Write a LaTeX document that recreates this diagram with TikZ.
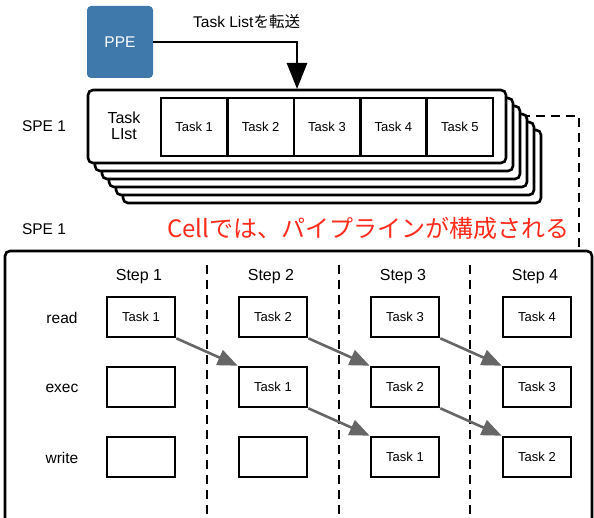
\documentclass[tikz,border=0pt]{standalone}
\usepackage{fontspec}
\setmainfont{Liberation Sans}
\newfontfamily\jpfont{Noto Sans CJK JP}
\usetikzlibrary{arrows.meta}
\definecolor{ppeblue}{HTML}{3F78AB}
\definecolor{cellred}{HTML}{FF2B1C}
\definecolor{arrgray}{HTML}{666666}
\begin{document}
\begin{tikzpicture}[x=1pt,y=-1pt,
  stackbox/.style={draw=black, line width=2.6pt, rounded corners=5pt, fill=white, minimum width=418pt, minimum height=73pt, inner sep=0pt},
  taskcell/.style={draw=black, line width=2.6pt, minimum width=66.4pt, minimum height=58pt, inner sep=0pt, font=\fontsize{13}{15}\selectfont},
  stepcell/.style={draw=black, line width=2.6pt, fill=white, minimum width=68pt, minimum height=40pt, inner sep=0pt, font=\fontsize{13}{15}\selectfont},
  lbl/.style={font=\fontsize{15.5}{17}\selectfont, inner sep=0pt},
  dashline/.style={line width=2.6pt, dash pattern=on 9pt off 6pt},
  garrow/.style={draw=arrgray, line width=2.6pt, -{Triangle[length=20pt,width=16pt]}},
  bigarrow/.style={draw=black, line width=2.6pt, -{Triangle[length=26pt,width=20pt]}}
]
\useasboundingbox (0,0) rectangle (594,518);
\clip (0,0) rectangle (594,518);

% PPE
\node[fill=ppeblue, rounded corners=4pt, minimum width=66pt, minimum height=72pt, inner sep=0pt,
      text=white, font=\fontsize{15.5}{17}\selectfont] (ppe) at (120,42) {PPE};
\node[font=\fontsize{15.5}{17}\selectfont, inner sep=0pt, anchor=west] (xfer) at (193,22) {Task List\jpfont を転送};

% dashed connector (drawn below the stack)
\coordinate (dstart) at (506,116);
\coordinate (dcorner) at (579,116);
\coordinate (dend) at (579,251);
\draw[dashline] (dstart) -- (dcorner) -- (dend);

% stack of SPE boxes
\foreach \i in {5,4,3,2,1}{
  \node[stackbox] (back\i) at ({297+7*\i},{126.5+8*\i}) {};
}
\node[stackbox] (spe) at (297,126.5) {};
\coordinate (tip) at (297,89);
\draw[bigarrow] (ppe.east) -| (tip);

\node[font=\fontsize{16}{17}\selectfont, align=center, inner sep=0pt] (tl) at (124,126) {Task\\[-1pt]LIst};
\foreach \k [count=\j] in {1,2,3,4,5}{
  \node[taskcell] (t\j) at ({161+33.2+66.4*(\j-1)},127) {Task \k};
}
\node[lbl] (spe1a) at (44,126) {SPE 1};
\node[lbl] (spe1b) at (44,229) {SPE 1};
\node[text=cellred, font=\fontsize{24}{27}\selectfont\jpfont, inner sep=0pt, anchor=west] (cellnote) at (167,228) {Cellでは、パイプラインが構成される};

% big SPE box
\draw[line width=2.6pt, rounded corners=5pt] (5,251) rectangle (592,560);

% step separators
\foreach \x in {207,339,470}{
  \draw[dashline] (\x,265) -- (\x,520);
}

% step labels
\foreach \s [count=\c] in {1,2,3,4}{
  \node[font=\fontsize{16}{18}\selectfont, inner sep=0pt] (step\c) at ({139+132*(\c-1)},277) {Step \s};
}
\node[lbl] (rread) at (62,318) {read};
\node[lbl] (rexec) at (62,388) {exec};
\node[lbl] (rwrite) at (62,458) {write};

% cells: c<col><row>
\node[stepcell] (c11) at (141,317) {Task 1};
\node[stepcell] (c12) at (141,387) {};
\node[stepcell] (c13) at (141,457) {};
\node[stepcell] (c21) at (273,317) {Task 2};
\node[stepcell] (c22) at (273,387) {Task 1};
\node[stepcell] (c23) at (273,457) {};
\node[stepcell] (c31) at (405,317) {Task 3};
\node[stepcell] (c32) at (405,387) {Task 2};
\node[stepcell] (c33) at (405,457) {Task 1};
\node[stepcell] (c41) at (537,317) {Task 4};
\node[stepcell] (c42) at (537,387) {Task 3};
\node[stepcell] (c43) at (537,457) {Task 2};

\draw[garrow] (c11.south east) -- (c22.north west);
\draw[garrow] (c21.south east) -- (c32.north west);
\draw[garrow] (c22.south east) -- (c33.north west);
\draw[garrow] (c31.south east) -- (c42.north west);
\draw[garrow] (c32.south east) -- (c43.north west);
\end{tikzpicture}
\end{document}
